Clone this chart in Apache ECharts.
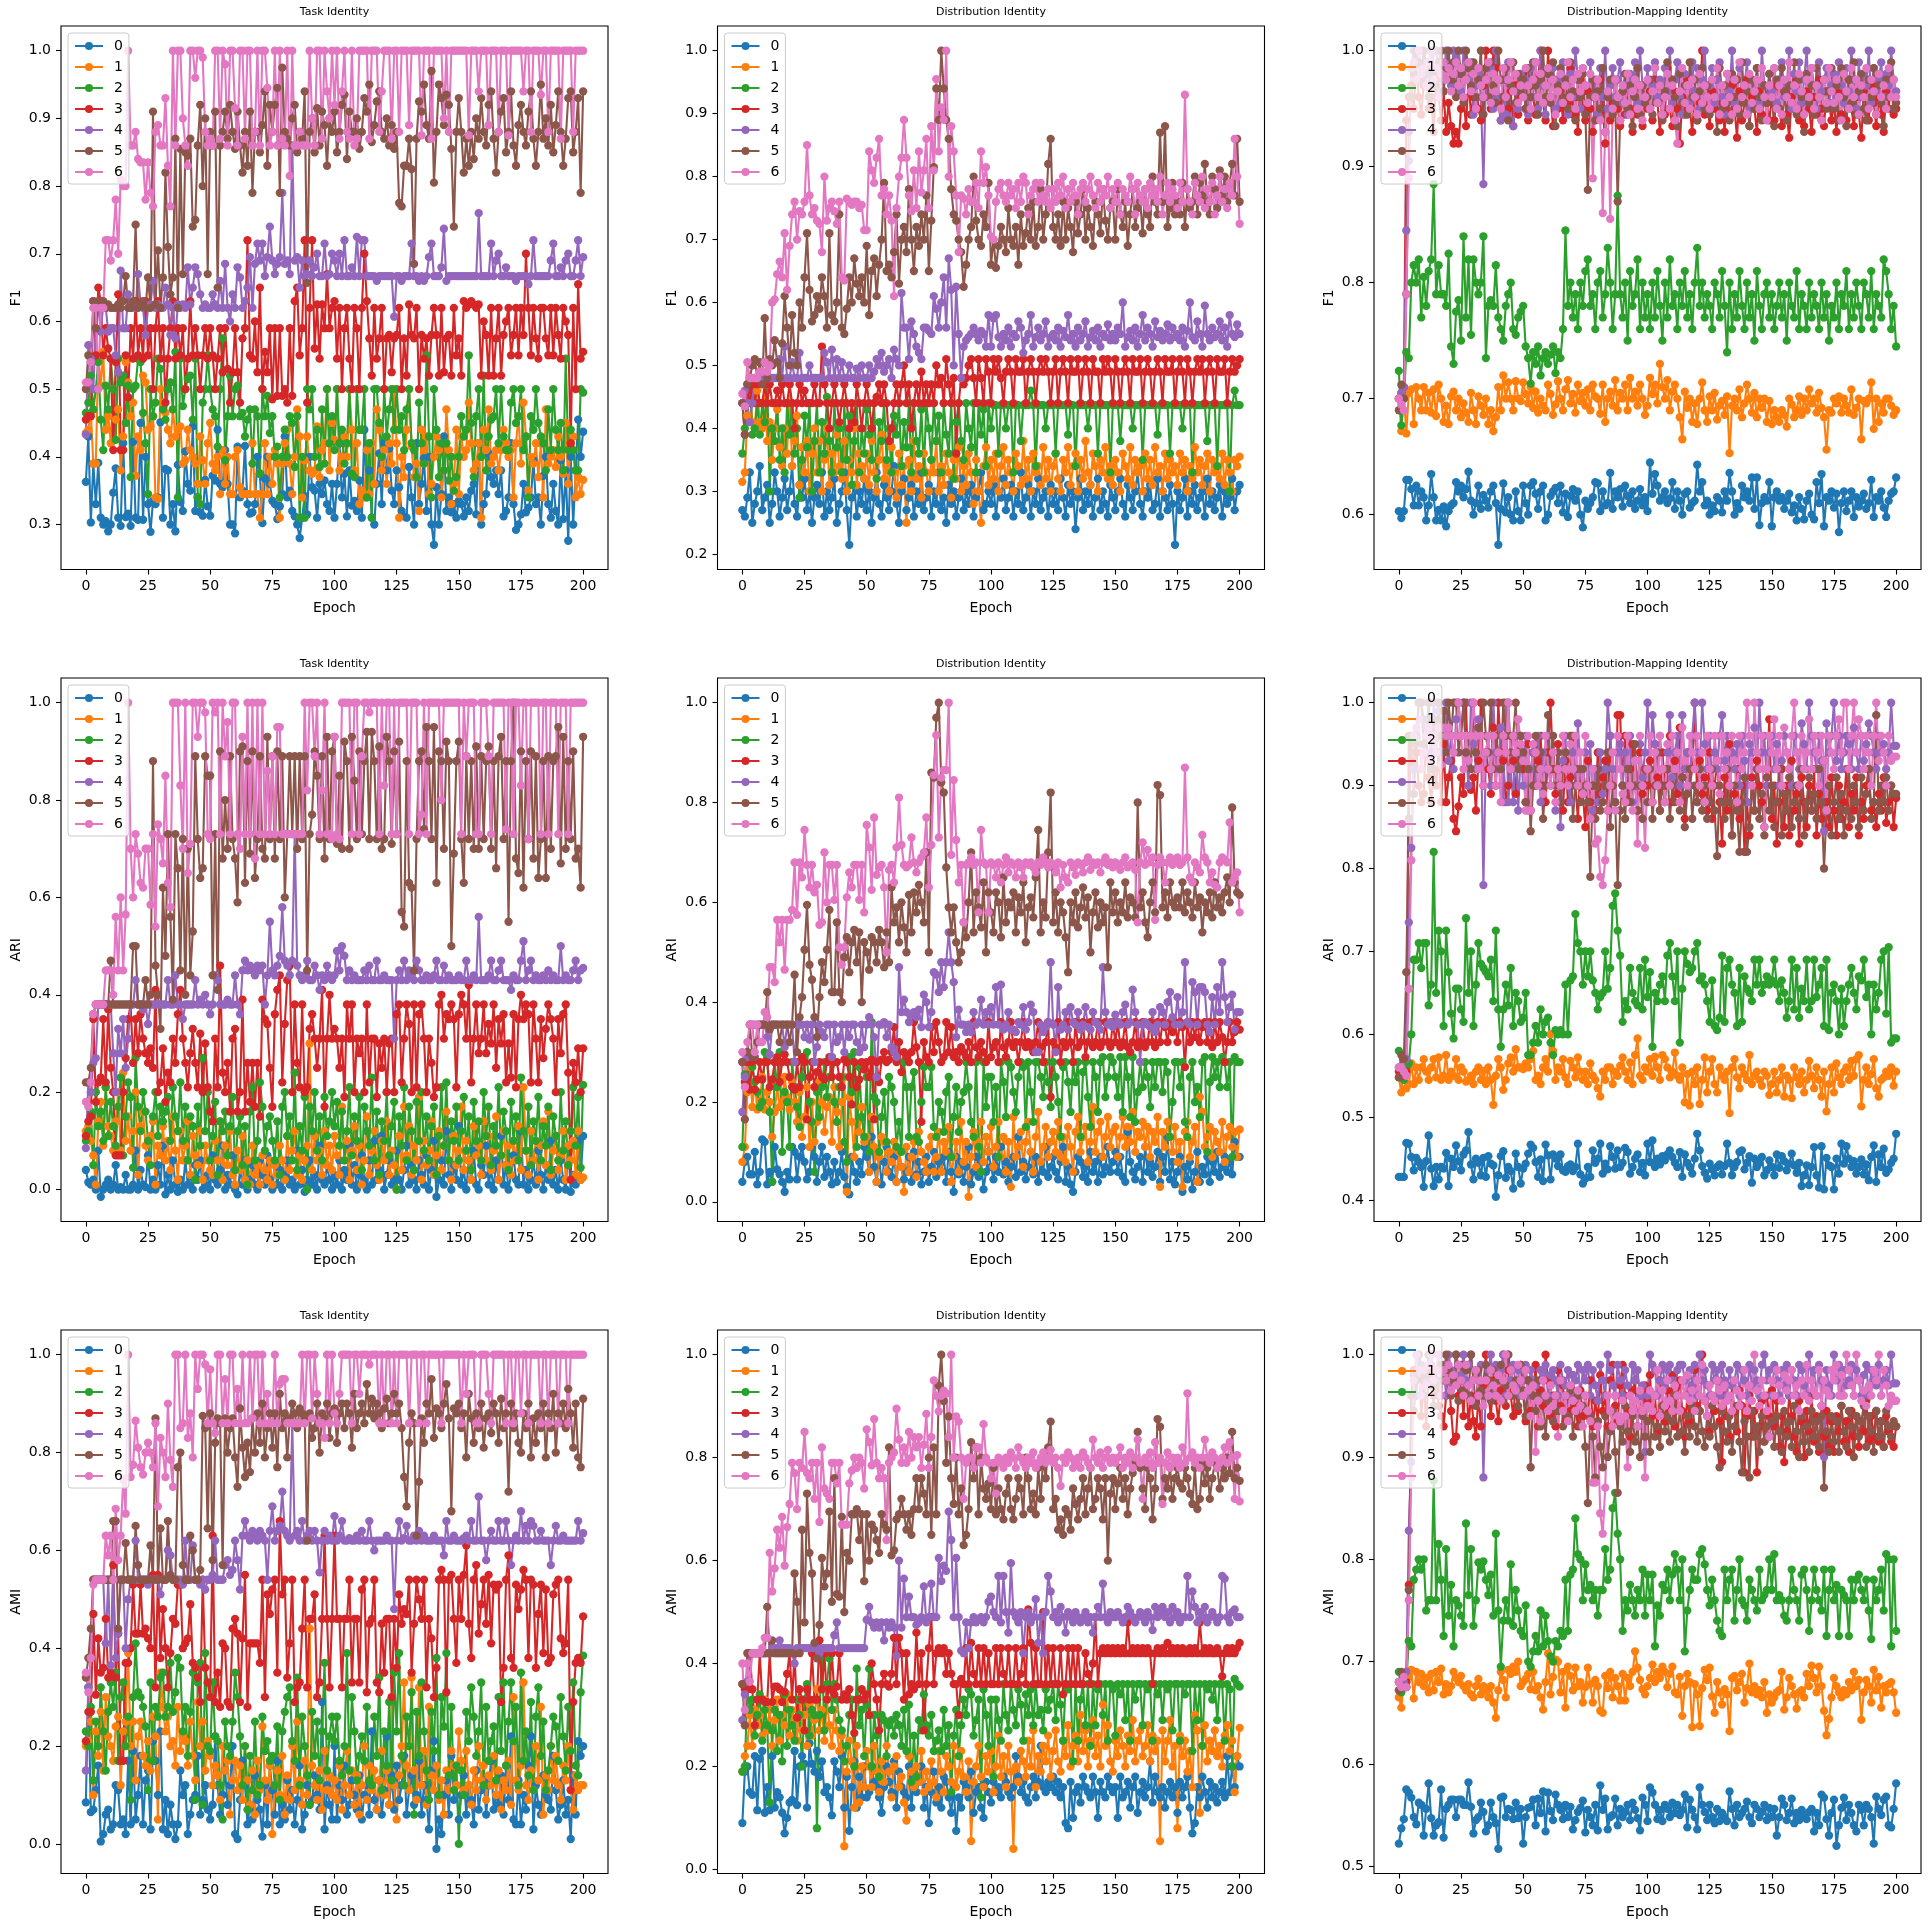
<!DOCTYPE html>
<html>
<head>
<meta charset="utf-8">
<title>Identity metrics per epoch</title>
<script src="https://cdn.jsdelivr.net/npm/echarts@6.0.0/dist/echarts.min.js"></script>
<style>
  html, body { margin: 0; padding: 0; background: #fff; }
  #chart { width: 1931px; height: 1927px; }
</style>
</head>
<body>
<div id="chart"></div>
<script>
// values are stored in thousandths (612 -> 0.612), one array per cluster and panel

var seriesNames = ['0', '1', '2', '3', '4', '5', '6'];
var colors = ['#1f77b4', '#ff7f0e', '#2ca02c', '#d62728', '#9467bd', '#8c564b', '#e377c2'];
var columnTitles = ['Task Identity', 'Distribution Identity', 'Distribution-Mapping Identity'];
var rowMetrics = ['F1', 'ARI', 'AMI'];
var xTicks = [0, 25, 50, 75, 100, 125, 150, 175, 200];
var yTicksF1 = [[0.3, 0.4, 0.5, 0.6, 0.7, 0.8, 0.9, 1.0], [0.2, 0.3, 0.4, 0.5, 0.6, 0.7, 0.8, 0.9, 1.0], [0.6, 0.7, 0.8, 0.9, 1.0]];
var yTicksARI = [[0.0, 0.2, 0.4, 0.6, 0.8, 1.0], [0.0, 0.2, 0.4, 0.6, 0.8, 1.0], [0.4, 0.5, 0.6, 0.7, 0.8, 0.9, 1.0]];
var yTicksAMI = [[0.0, 0.2, 0.4, 0.6, 0.8, 1.0], [0.0, 0.2, 0.4, 0.6, 0.8, 1.0], [0.5, 0.6, 0.7, 0.8, 0.9, 1.0]];

// ---------- Task Identity / F1 ----------
var tF1_0 = [363,430,303,390,330,391,310,300,305,290,300,347,383,310,298,420,311,316,298,422,310,307,450,307,400,
330,289,335,330,340,451,310,382,380,300,330,290,388,333,320,408,360,350,445,320,340,318,313,366,327,
313,372,365,440,360,355,410,360,300,300,287,415,340,350,416,330,316,318,330,400,375,302,368,400,360,
335,330,308,327,345,430,340,350,320,312,300,280,310,342,315,400,355,350,310,360,345,365,330,320,360,
310,360,420,340,375,312,380,328,335,320,365,310,440,340,380,310,300,360,405,330,420,380,412,350,330,
380,355,320,312,310,385,340,300,420,330,360,398,320,400,300,270,355,300,345,430,320,340,318,330,310,
335,330,312,340,320,350,360,315,420,300,330,345,405,370,360,380,345,380,312,320,340,420,330,292,300,
315,360,318,325,340,395,330,340,300,372,400,330,310,360,320,300,395,308,380,276,400,300,380,455,400,
437];
var tF1_1 = [435,440,465,390,390,550,505,555,440,460,420,500,455,470,380,430,540,510,460,480,372,430,410,520,510,
440,445,460,340,338,500,480,465,440,420,470,430,440,445,390,395,440,410,400,390,360,430,395,360,420,
450,390,380,400,345,410,360,400,345,345,400,410,355,345,345,345,345,420,345,345,310,345,420,345,400,
360,410,390,310,390,420,440,390,345,400,470,430,340,395,430,380,375,380,445,370,410,420,500,380,450,
425,500,380,400,430,400,500,440,380,420,330,350,340,410,345,420,360,470,440,380,410,360,420,390,500,
420,310,400,370,440,500,415,370,390,320,440,410,430,345,360,400,430,410,340,380,470,410,330,360,440,
345,430,400,410,480,420,380,390,420,310,440,410,470,390,400,410,380,410,440,420,400,410,340,420,460,
390,480,430,350,400,390,420,370,420,340,470,390,400,410,385,430,400,375,450,360,420,430,340,370,345,
366];
var tF1_2 = [465,480,520,470,500,540,455,410,505,470,545,500,425,545,510,520,450,505,370,500,505,545,540,465,420,
345,500,460,480,545,530,470,455,500,510,470,555,340,545,475,500,515,520,455,545,340,330,480,500,550,
500,470,460,415,500,575,395,460,520,460,500,505,460,465,430,455,470,390,470,460,375,500,460,490,435,
460,400,415,340,400,440,400,460,450,385,460,310,400,310,500,470,500,400,440,385,470,390,500,420,460,
410,500,420,440,390,420,500,375,370,500,440,440,500,340,420,310,500,500,450,400,500,430,470,500,440,
500,440,460,410,470,500,420,410,370,480,420,390,550,430,340,500,440,370,420,380,420,365,400,350,370,
400,460,430,440,550,450,370,460,500,400,520,380,430,455,460,500,420,500,430,410,410,480,500,450,460,
500,410,430,340,460,440,500,450,430,420,380,470,410,500,440,410,450,380,545,410,440,410,380,380,500,
495];
var tF1_3 = [455,460,460,630,550,650,630,550,590,560,545,410,540,640,410,410,550,488,590,545,630,550,590,545,630,
550,590,500,590,630,545,590,480,545,590,630,545,590,550,590,500,545,630,550,590,550,500,550,590,545,
590,550,500,545,590,525,590,530,480,525,590,525,480,575,590,720,550,545,600,525,650,500,555,525,590,
485,590,490,590,490,500,480,590,490,630,650,550,590,720,480,620,720,560,625,545,625,590,670,590,620,
630,545,620,500,590,620,545,500,620,590,500,620,700,630,575,520,620,545,575,620,500,575,580,525,575,
580,620,500,575,520,625,580,575,620,500,580,545,575,520,580,620,580,520,620,525,575,580,520,620,550,
575,520,630,620,625,630,625,620,625,520,600,580,520,620,520,575,620,520,580,600,620,550,580,620,550,
620,580,700,620,550,620,575,545,620,620,575,550,620,550,620,580,545,620,600,580,420,620,500,655,545,
555];
var tF1_4 = [433,565,545,500,590,625,585,625,620,585,590,590,550,525,675,590,590,640,620,620,620,670,625,620,580,
620,625,660,620,625,620,620,650,625,580,620,575,625,620,625,620,680,625,650,680,670,640,620,625,620,
620,640,625,620,660,620,685,620,600,640,620,680,665,620,630,650,695,620,685,715,690,715,667,695,740,
690,670,685,695,790,685,690,670,860,690,695,650,690,667,670,690,667,680,700,667,667,715,667,670,700,
690,667,700,667,720,667,667,680,667,725,667,720,720,667,667,667,667,660,667,667,667,667,667,667,607,
667,667,660,667,667,667,715,667,667,660,667,660,667,695,715,667,667,667,680,737,660,667,667,667,667,
667,667,667,667,667,667,667,667,760,667,667,667,667,715,667,690,700,667,667,680,667,667,667,660,667,
667,667,667,655,667,720,667,667,667,667,667,667,690,715,667,667,680,667,690,700,667,667,690,720,667,
695];
var tF1_5 = [500,550,540,630,590,630,620,630,620,625,620,620,620,625,620,630,667,620,620,630,743,620,625,630,620,
665,620,910,625,705,620,665,820,710,640,665,870,620,855,670,850,845,870,740,750,860,920,800,900,670,
880,860,910,650,860,880,910,870,920,880,855,910,860,820,880,830,910,790,880,880,850,890,940,830,920,
880,920,945,790,975,880,870,860,900,920,850,880,870,940,657,880,900,850,915,860,910,890,830,900,880,
910,850,880,920,935,840,910,880,880,900,855,880,930,910,950,865,890,925,940,880,870,900,860,890,855,
880,775,770,830,830,870,825,685,870,925,910,950,890,870,970,805,880,950,930,890,935,920,855,740,880,
930,880,820,870,830,880,840,900,870,930,880,860,920,940,870,820,880,910,930,850,880,940,860,830,890,
920,880,860,910,940,870,830,880,950,870,900,860,920,850,890,940,880,830,870,930,940,850,880,930,790,
940];
var tF1_6 = [510,510,540,620,620,500,620,620,720,720,690,720,780,700,810,800,800,1000,860,860,880,840,835,835,780,
835,790,770,880,890,860,860,930,830,770,1000,860,1000,1000,900,860,830,1000,1000,960,1000,1000,990,880,860,
870,860,1000,1000,870,1000,980,860,1000,1000,915,860,1000,1000,870,1000,1000,860,880,1000,860,1000,1000,945,860,
880,1000,860,1000,870,860,1000,815,1000,860,860,880,860,860,860,1000,900,860,1000,1000,870,1000,940,900,1000,
920,1000,870,940,1000,880,870,1000,860,870,1000,1000,1000,1000,870,1000,1000,1000,880,940,1000,1000,1000,870,1000,
1000,880,1000,1000,1000,890,1000,1000,1000,1000,875,1000,1000,1000,870,1000,1000,1000,1000,900,1000,880,1000,1000,1000,
1000,1000,1000,1000,875,1000,1000,1000,940,1000,1000,1000,890,1000,1000,1000,880,1000,1000,1000,875,1000,1000,1000,1000,
1000,940,1000,1000,880,1000,1000,1000,935,1000,1000,880,1000,1000,1000,1000,870,1000,1000,1000,1000,880,1000,1000,1000,
1000];

// ---------- Distribution Identity / F1 ----------
var dF1_0 = [270,260,290,330,250,280,300,340,270,290,310,250,280,330,300,260,290,320,270,300,340,280,260,310,290,
320,270,300,250,290,310,280,330,260,300,270,290,320,250,280,300,330,270,215,290,310,260,300,280,320,
270,300,250,290,330,280,260,310,290,270,300,340,280,250,300,320,270,290,310,260,300,280,330,270,290,
310,260,300,280,330,270,290,250,310,280,300,260,290,320,270,300,280,310,260,290,300,330,270,280,300,
280,310,260,300,290,320,270,290,310,260,300,280,330,270,290,310,260,300,280,320,270,290,300,260,310,
280,300,270,320,290,260,310,280,300,240,290,320,270,300,280,310,260,290,320,270,300,280,260,310,290,
270,300,320,280,260,310,290,270,300,330,280,260,300,290,310,270,280,320,260,300,290,270,310,280,215,
300,270,290,320,260,300,280,310,270,290,300,260,320,280,300,270,290,310,260,300,280,290,320,270,300,
310];
var dF1_1 = [315,330,420,470,410,400,460,410,400,470,380,410,350,400,430,370,340,400,360,470,340,380,420,310,370,
330,380,300,360,400,330,380,300,350,400,310,360,330,390,340,320,380,300,350,330,400,310,360,340,320,
360,310,380,330,300,350,390,320,340,300,370,330,290,360,310,340,250,350,300,380,320,340,290,360,330,
300,350,330,380,300,340,310,360,330,290,350,320,370,300,340,310,360,330,280,350,300,250,340,370,310,
350,320,360,300,340,370,310,350,330,300,360,340,310,380,320,350,300,360,330,340,310,370,320,350,300,
340,360,320,300,350,330,370,310,340,360,300,350,320,380,330,310,360,340,300,350,330,370,320,340,310,
350,330,300,360,340,320,370,310,350,330,340,300,360,320,350,310,370,330,340,300,360,320,350,330,340,
310,360,330,350,300,340,320,370,330,350,310,340,360,300,350,330,340,320,360,310,350,330,300,350,340,
355];
var dF1_2 = [360,400,470,470,390,400,440,390,440,410,470,300,400,380,440,350,400,330,440,390,440,360,400,290,350,
420,370,440,300,380,440,330,410,360,450,380,330,440,370,400,330,440,350,420,310,380,440,330,400,360,
430,390,350,440,320,410,380,440,350,400,330,420,390,440,340,410,370,440,330,440,380,360,430,330,440,
400,350,440,380,420,330,440,390,360,440,320,410,440,380,350,440,400,370,440,330,440,390,430,340,440,
400,437,437,360,437,437,400,437,437,330,437,437,380,437,437,437,460,437,340,437,437,437,400,437,437,
437,360,437,437,437,437,390,437,437,340,437,437,437,437,400,437,437,437,360,437,437,437,437,330,437,
437,437,380,437,437,437,437,400,437,437,437,350,437,437,437,437,437,390,437,437,437,437,360,437,437,
437,437,400,437,437,437,330,437,437,437,437,437,380,437,437,437,340,437,437,437,437,300,437,460,437,
437];
var dF1_3 = [440,390,460,440,470,440,470,440,440,470,440,470,440,440,460,440,470,440,440,470,440,400,440,470,440,
460,440,440,440,470,440,440,530,470,440,400,440,470,440,410,440,470,440,400,440,410,470,440,400,440,
470,440,400,440,450,470,440,470,440,380,400,440,470,440,470,500,440,470,400,440,470,440,490,440,470,
440,470,440,500,470,480,440,510,470,440,480,360,440,480,470,480,500,510,480,440,510,480,440,510,490,
440,510,490,510,480,440,490,510,490,440,510,490,490,510,440,490,510,490,440,490,510,490,510,490,440,
490,510,440,490,510,490,440,510,490,490,510,440,490,510,490,440,510,490,490,440,510,490,510,490,440,
510,490,440,490,510,490,440,510,490,490,510,440,490,510,490,440,490,510,490,440,510,490,490,510,440,
490,510,490,440,510,490,440,490,510,490,510,440,490,510,490,440,510,490,490,510,440,490,510,490,500,
510];
var dF1_4 = [440,460,440,410,440,480,480,480,480,480,480,480,480,480,480,510,480,530,480,480,505,480,480,520,480,
480,480,500,480,480,480,480,480,520,505,480,525,480,510,480,505,480,480,500,480,480,495,480,500,480,
480,500,480,490,510,500,520,490,500,510,480,525,510,500,615,560,560,510,570,550,530,520,510,560,560,
555,550,610,590,560,600,640,560,670,620,500,625,550,480,530,540,545,550,560,550,540,555,550,530,580,
530,575,580,545,530,550,540,560,530,550,545,570,560,520,540,550,580,530,545,560,540,550,570,530,545,
550,540,560,530,555,545,580,540,550,530,560,540,550,570,530,545,555,540,560,530,550,545,565,540,550,
540,560,550,600,530,545,555,540,560,530,550,580,540,560,550,530,570,545,555,540,550,565,540,560,545,
550,540,560,530,555,600,545,540,570,550,530,595,550,540,560,545,550,570,540,560,530,580,550,545,565,
550];
var dF1_5 = [440,390,470,480,500,510,480,505,470,575,480,510,500,540,505,480,535,610,560,500,580,520,500,600,560,
640,710,620,570,580,610,590,640,610,560,710,580,570,600,740,560,550,590,640,600,670,630,610,640,600,
690,580,650,670,610,660,700,790,650,660,640,680,740,630,700,720,680,780,700,650,720,690,740,700,770,
650,730,815,940,890,1000,940,890,860,780,740,730,700,680,625,660,700,720,800,730,700,690,740,720,790,
660,700,655,690,720,700,680,750,700,690,720,660,740,690,710,750,700,760,690,720,780,700,740,820,860,
720,700,740,690,760,700,750,720,680,760,710,740,780,700,750,720,690,760,740,710,780,730,700,750,760,
700,780,740,720,760,690,740,780,720,750,760,710,780,740,720,800,760,740,870,760,880,720,750,790,740,
760,740,790,720,780,750,760,800,740,790,770,820,760,740,800,780,750,810,770,800,760,790,820,770,860,
760];
var dF1_6 = [455,435,505,480,480,480,480,490,490,505,490,500,600,605,645,665,640,710,620,690,740,760,700,745,740,
760,850,770,740,750,730,725,680,800,730,750,760,745,725,760,640,635,765,760,755,760,760,750,755,715,
715,840,810,790,830,860,770,780,740,770,730,610,750,800,830,890,830,770,745,810,750,840,775,810,860,
750,880,810,955,840,910,890,1000,800,880,840,770,680,770,765,740,780,760,760,790,750,840,790,815,770,
705,700,760,780,790,770,760,790,770,780,750,790,760,800,790,740,770,780,790,760,790,770,760,780,750,
780,760,790,770,800,750,780,760,790,770,740,780,790,760,780,800,770,750,790,760,780,770,800,750,780,
760,790,740,780,770,760,800,780,740,790,770,760,780,750,790,770,780,760,800,740,770,790,760,780,770,
750,790,760,930,780,760,740,790,770,760,800,750,780,760,790,740,770,800,760,780,750,790,770,860,800,
725];

// ---------- Distribution-Mapping Identity / F1 ----------
var mF1_0 = [603,597,603,630,630,622,608,625,608,620,615,595,608,635,615,595,604,595,607,590,603,608,610,628,620,
625,615,622,637,612,600,610,625,605,617,612,606,620,625,610,574,605,627,602,615,600,595,620,603,595,
625,610,600,625,628,618,605,620,625,595,600,616,620,623,610,625,602,618,598,616,622,612,620,600,589,
612,605,610,615,628,627,603,620,608,610,636,605,620,615,622,607,625,616,610,620,605,612,622,608,615,
603,645,618,635,625,612,615,620,610,614,628,605,620,612,600,618,620,606,610,612,643,620,628,608,612,
600,608,603,615,612,602,620,612,636,620,600,610,605,625,615,620,612,632,605,632,591,610,615,612,628,
590,615,620,612,615,605,612,618,602,608,595,615,605,596,612,618,600,596,628,610,635,590,615,612,620,
606,618,585,610,620,603,612,620,598,615,607,612,618,605,610,630,598,615,612,620,606,598,612,618,620,
632];
var mF1_1 = [700,672,705,670,705,708,678,710,700,690,710,690,705,688,708,685,712,700,680,694,678,702,706,690,700,
684,696,688,680,705,690,678,702,694,686,700,678,690,672,684,710,690,720,700,714,700,690,715,700,698,
714,704,696,710,692,706,688,700,694,690,712,704,686,695,715,700,690,708,716,696,704,688,712,698,705,
694,708,690,712,702,700,687,712,680,700,706,694,716,690,705,700,712,690,718,700,706,694,712,700,686,
694,718,704,712,696,730,710,700,716,690,706,712,700,684,665,706,692,700,680,696,678,700,714,690,680,
702,690,705,682,694,698,686,702,653,694,700,690,708,684,696,712,700,688,705,684,700,692,700,680,698,
678,690,684,680,690,686,676,700,695,684,690,702,686,700,690,708,696,700,688,705,692,684,656,690,688,
700,696,702,688,700,694,688,708,686,692,700,665,698,696,700,714,674,700,680,696,688,700,700,694,686,
690];
var mF1_2 = [724,677,700,740,735,800,815,800,820,770,805,780,810,820,885,790,815,790,790,780,825,745,730,775,785,
750,840,770,820,755,820,800,790,800,840,735,780,785,780,815,770,760,750,780,790,800,760,755,770,775,
780,745,735,713,740,730,745,720,735,740,730,738,745,722,740,735,760,845,780,800,770,790,760,800,780,
810,820,780,790,760,800,810,770,790,830,800,760,790,875,790,770,800,750,810,780,790,820,760,800,770,
790,760,800,770,810,780,750,800,770,820,780,790,760,800,780,810,770,790,760,800,830,780,800,770,790,
780,760,800,790,770,810,780,740,800,760,790,770,810,780,760,800,770,790,750,810,780,760,790,800,770,
790,760,780,800,770,790,750,800,780,770,810,760,790,780,760,800,770,790,780,760,800,770,790,750,780,
770,800,760,790,780,810,760,790,770,800,780,760,800,790,770,810,760,790,780,770,820,810,790,760,780,
745];
var mF1_3 = [700,705,710,940,960,970,950,990,960,945,970,980,950,960,930,975,960,940,965,930,955,935,920,930,920,
950,960,935,975,945,960,980,950,940,970,1000,960,950,1000,985,955,940,960,975,950,965,935,970,945,960,
980,950,940,970,960,945,975,1000,955,940,1000,960,935,975,950,965,940,970,955,985,945,960,930,975,950,
940,965,950,930,960,945,975,950,920,965,940,955,975,950,935,965,945,980,950,930,960,945,970,935,955,
950,965,940,975,955,930,960,945,985,950,935,965,950,920,960,945,975,950,930,965,940,955,1000,945,960,
935,965,950,975,940,955,930,960,945,970,950,925,965,940,955,975,935,960,950,930,965,945,970,955,940,
960,940,970,950,935,965,945,925,960,950,975,940,955,935,965,950,930,960,945,975,950,935,965,955,940,
955,930,965,945,960,940,975,950,935,960,945,925,965,950,940,970,955,935,960,945,930,965,950,975,945,
950];
var mF1_4 = [700,705,710,845,905,985,1000,990,1000,975,1000,990,980,970,1000,1000,985,990,975,1000,985,970,1000,995,980,
965,1000,985,975,990,945,970,980,960,885,975,960,985,950,1000,960,940,975,945,990,940,935,965,950,980,
960,975,945,985,960,990,950,1000,970,945,980,960,985,950,975,955,990,970,945,980,960,1000,975,950,985,
970,955,990,960,975,945,985,960,1000,950,970,985,960,975,990,955,970,945,980,965,990,955,1000,970,960,
985,950,970,990,960,975,945,985,965,1000,955,975,990,960,945,980,970,955,990,965,985,950,975,1000,960,
970,985,955,975,990,960,945,980,965,1000,955,975,985,960,970,990,950,975,965,985,955,1000,970,960,980,
965,985,955,975,990,960,970,1000,950,980,965,990,955,975,1000,960,985,970,950,990,965,975,985,955,970,
980,960,990,970,955,985,965,1000,975,950,990,960,980,970,1000,955,985,965,975,990,960,980,970,1000,975,
965];
var mF1_5 = [690,712,700,790,930,960,980,1000,990,975,1000,985,960,1000,980,970,990,1000,965,985,1000,975,990,960,1000,
980,955,1000,985,970,990,960,975,1000,945,985,960,990,970,955,1000,975,960,985,940,970,990,955,980,965,
975,950,985,960,990,970,945,975,1000,960,980,955,990,935,970,985,960,975,950,990,965,940,975,960,980,
945,880,960,975,940,965,950,985,930,960,975,945,955,870,940,965,980,950,970,935,960,985,945,970,955,
960,975,945,985,955,970,940,965,990,950,975,960,935,980,955,970,945,990,960,975,940,965,985,950,970,
945,975,960,930,985,950,970,955,940,980,960,975,945,990,955,965,935,975,950,985,960,940,970,955,980,
960,935,975,950,985,965,940,970,955,990,945,975,960,930,980,955,970,945,985,960,940,975,950,965,985,
950,970,940,985,960,935,975,955,990,945,965,980,950,940,975,960,985,945,970,955,935,975,960,990,950,
955];
var mF1_6 = [700,695,690,790,890,985,990,975,1000,980,985,970,990,1000,975,985,960,980,990,975,985,965,980,990,970,
985,960,975,990,965,980,950,985,970,960,975,990,955,980,965,975,950,985,960,975,990,965,980,955,970,
960,985,970,950,975,990,960,980,955,970,985,960,975,945,965,980,955,970,990,960,975,950,980,965,985,
970,955,980,890,960,975,940,860,930,965,855,950,975,960,940,970,955,980,945,965,975,950,970,940,960,
975,950,965,985,955,970,945,960,980,950,970,940,920,965,985,955,970,950,975,960,945,980,955,970,960,
950,975,960,985,945,970,955,980,960,945,975,950,990,960,970,945,980,955,965,975,950,985,960,940,970,
960,985,950,970,945,975,960,990,955,970,950,980,965,945,975,960,985,950,970,960,940,975,955,985,965,
955,975,960,940,980,965,950,985,960,975,945,970,960,985,950,975,965,945,980,960,970,950,985,960,975,
960];

// ---------- Task Identity / ARI ----------
var tARI_0 = [40,15,10,20,0,80,-15,0,10,20,0,10,50,0,5,0,30,0,0,10,80,0,40,10,5,
70,0,20,0,50,10,90,-10,30,0,60,10,-5,20,0,60,10,30,0,50,20,60,0,10,30,
0,70,20,10,40,90,0,30,10,70,0,-10,40,10,60,0,20,50,10,0,60,30,10,70,20,
0,50,10,40,0,30,60,10,20,0,80,10,40,-5,20,60,10,30,0,90,20,10,50,20,0,
30,10,60,0,40,20,90,10,50,0,30,70,20,0,60,10,100,20,40,110,0,30,60,10,20,
80,20,0,40,90,10,50,20,0,60,30,10,70,0,40,100,-15,20,60,10,120,30,0,50,20,
130,10,40,0,60,20,80,10,0,50,30,90,10,40,0,60,20,110,10,50,0,30,70,20,10,
120,10,40,0,20,60,10,80,30,0,50,20,100,10,40,0,60,20,0,90,-5,30,10,100,20,
110];
var tARI_1 = [120,130,100,70,10,140,180,90,210,130,110,80,140,200,80,240,100,150,80,120,200,30,130,160,90,
60,110,140,10,90,70,130,60,100,40,150,80,20,120,60,90,140,30,110,70,50,120,20,90,60,
40,30,100,60,140,20,90,50,120,30,10,80,40,110,20,60,10,90,30,50,10,70,40,20,60,
10,50,30,90,60,20,110,40,80,120,30,70,20,60,90,300,40,110,60,80,30,120,50,90,40,
110,70,30,170,60,100,20,80,130,40,90,10,60,150,30,80,120,50,20,100,60,140,30,80,50,
0,110,40,170,70,130,30,90,60,190,20,100,50,80,140,30,70,120,40,90,160,60,20,110,50,
80,170,40,100,60,20,130,70,90,30,140,60,110,40,80,150,20,70,120,50,90,30,100,60,130,
40,210,80,30,120,60,100,20,90,140,50,160,30,80,110,40,70,120,20,90,60,100,30,120,20,
25];
var tARI_2 = [100,120,160,50,200,130,160,100,210,110,180,130,90,170,230,70,150,220,190,45,270,170,120,200,160,
100,50,150,200,110,170,140,160,190,100,210,150,120,220,100,170,60,150,130,20,170,90,270,120,200,
60,110,180,30,140,120,160,70,130,190,40,120,150,50,130,10,160,210,60,100,220,170,80,130,150,
100,60,140,30,170,200,110,150,60,240,40,130,80,190,0,170,120,200,80,150,60,190,110,140,200,
130,180,90,160,60,120,210,70,150,100,190,40,170,120,90,230,60,160,30,140,100,200,70,130,180,
0,150,90,210,60,170,120,40,180,100,200,80,150,60,130,170,30,110,210,90,220,60,140,100,170,
60,120,190,80,150,40,180,100,140,60,200,110,170,50,130,90,210,70,160,120,40,180,100,150,60,
230,120,80,170,50,140,100,190,60,130,90,170,40,150,110,60,200,80,140,50,120,210,90,190,45,
215];
var tARI_3 = [110,140,150,350,180,220,230,350,220,370,250,200,70,70,70,200,270,350,380,260,350,280,360,310,280,
260,290,250,410,200,220,290,180,240,220,310,260,360,410,310,260,210,280,330,260,210,320,200,300,210,
160,140,310,210,460,240,200,260,160,310,330,160,200,390,160,260,180,260,170,260,150,390,350,340,250,
170,360,410,440,220,340,430,460,200,380,260,210,380,200,210,330,360,310,250,310,410,170,310,400,310,
330,310,250,310,190,380,310,380,200,310,280,310,200,380,220,310,310,190,300,250,310,200,300,310,200,
360,380,220,310,380,340,200,380,210,360,380,310,200,310,260,190,210,380,400,310,360,350,380,350,210,
360,400,380,310,420,220,310,380,280,310,380,280,340,300,380,250,350,300,360,220,300,230,360,210,350,
400,350,380,360,220,380,310,220,350,270,330,380,350,310,200,350,280,360,380,240,20,260,220,290,200,
290];
var tARI_4 = [85,220,200,260,270,380,380,380,380,380,380,280,200,330,280,350,250,310,380,380,430,380,380,370,380,
340,380,380,380,380,380,380,380,430,380,380,440,380,380,350,380,380,380,380,430,380,390,380,400,380,
360,380,440,430,380,380,380,390,380,380,440,380,360,450,470,450,460,450,440,460,450,460,380,440,550,
450,440,460,480,580,470,460,440,470,730,460,440,430,440,470,430,430,460,440,410,440,430,460,440,430,
440,490,450,500,480,430,450,430,440,430,430,430,450,430,460,430,430,470,430,430,440,430,430,430,310,
430,450,430,470,430,450,440,430,470,450,430,430,440,430,430,440,470,430,430,460,430,440,430,430,430,
440,430,430,470,430,430,440,430,560,430,430,430,440,470,430,430,450,470,430,430,430,410,440,430,430,
470,510,430,450,470,430,440,430,430,440,430,450,430,440,430,430,500,430,440,430,430,450,470,430,450,
455];
var tARI_5 = [220,220,250,360,380,380,380,380,380,380,470,380,380,380,380,380,380,380,380,500,500,380,380,380,430,
380,400,880,460,400,330,620,480,730,560,390,730,660,450,720,400,700,440,530,890,720,640,660,890,850,
850,440,730,410,900,680,800,700,890,720,680,590,900,910,630,880,690,900,640,720,890,700,680,930,720,
890,680,900,720,890,600,730,890,730,890,700,890,720,890,450,730,770,900,850,720,890,680,930,720,900,
930,710,850,700,920,880,700,930,840,720,900,730,880,940,720,940,880,720,910,700,720,930,880,710,900,
730,920,570,540,880,630,620,450,720,880,900,740,950,880,720,950,630,900,880,700,920,880,500,690,880,
920,720,630,890,720,880,700,910,700,890,720,880,910,700,880,660,890,930,720,880,550,880,1000,680,650,
900,620,880,720,900,680,890,640,720,880,640,890,700,880,890,950,670,930,700,880,720,900,680,700,620,
930];
var tARI_6 = [180,170,220,360,380,380,380,380,450,450,450,400,560,450,600,450,565,1000,700,600,730,690,630,620,700,
700,585,730,540,750,720,670,850,630,580,1000,1000,1000,830,700,1000,650,710,1000,1000,930,1000,1000,980,730,
720,1000,980,1000,730,1000,890,960,730,1000,1000,730,700,930,730,1000,730,1000,680,1000,730,1000,730,860,730,
890,730,950,950,730,730,730,730,730,730,730,730,730,1000,820,1000,1000,890,1000,730,820,1000,730,730,720,
930,730,720,1000,1000,1000,1000,730,1000,1000,730,890,1000,1000,980,1000,1000,1000,730,1000,830,1000,1000,730,1000,
730,1000,1000,1000,1000,730,1000,1000,1000,730,770,1000,730,1000,1000,1000,1000,1000,800,1000,1000,1000,1000,1000,1000,
1000,730,1000,890,1000,1000,1000,730,730,1000,1000,1000,890,730,1000,1000,1000,1000,1000,740,1000,1000,730,1000,1000,
830,1000,1000,720,1000,1000,1000,1000,730,1000,1000,730,1000,1000,1000,730,1000,1000,1000,730,1000,1000,1000,1000,1000,
1000];

// ---------- Distribution Identity / ARI ----------
var dARI_0 = [40,80,90,55,55,100,35,60,125,120,35,60,40,110,65,55,40,20,60,45,110,100,45,90,110,
80,45,60,110,90,40,80,110,50,90,60,35,80,40,60,100,50,30,15,90,60,40,80,55,110,
90,60,130,70,40,90,35,80,110,60,50,90,40,100,70,45,60,90,40,100,55,80,35,60,90,
40,70,100,50,80,60,90,40,100,60,20,90,55,80,40,70,110,35,60,90,50,80,25,60,100,
70,45,90,60,110,55,80,40,70,90,50,130,60,80,45,70,100,55,90,40,80,60,110,50,70,
90,60,45,80,110,40,70,35,20,60,90,80,50,70,40,100,60,80,40,90,55,70,110,60,80,
100,60,90,50,40,140,80,60,45,70,90,40,110,60,80,50,70,100,40,90,60,130,45,80,35,
60,90,20,70,45,80,25,60,100,40,70,55,90,40,80,60,100,50,70,90,60,80,55,120,90,
90];
var dARI_1 = [80,110,220,270,190,240,185,200,250,185,220,200,130,180,230,190,200,250,210,185,240,200,160,220,130,
170,230,110,200,120,160,240,200,140,190,210,120,230,180,110,200,250,20,210,160,90,230,140,190,120,
130,60,170,110,40,90,130,120,60,100,80,120,40,100,70,20,110,60,90,120,50,140,100,80,60,
110,130,60,90,140,60,120,100,150,40,90,120,60,160,80,120,10,90,140,70,120,160,80,130,100,
150,70,110,160,90,130,60,120,30,170,90,110,140,70,120,160,100,60,130,180,80,110,150,90,120,
140,100,160,90,130,80,150,110,60,140,170,100,130,150,80,120,190,100,140,160,90,130,170,110,140,
150,90,130,170,110,150,120,180,100,140,130,160,110,150,90,140,120,170,30,140,110,160,130,100,150,
80,120,30,140,160,90,120,150,40,210,180,110,130,150,90,140,120,100,160,80,130,150,110,140,90,
145];
var dARI_2 = [110,255,300,280,270,240,220,190,200,300,290,180,40,280,230,300,100,220,200,110,280,230,190,150,250,
290,300,200,160,60,220,170,230,280,210,250,290,200,160,230,250,120,80,290,220,300,110,270,170,130,
250,100,360,210,200,100,170,220,120,250,230,200,110,160,100,280,230,130,230,260,130,120,200,270,230,
230,270,150,130,200,180,140,220,250,90,170,230,140,200,220,280,230,160,130,280,110,60,280,190,250,
250,160,230,90,280,240,170,280,270,220,180,250,280,270,150,280,220,160,280,280,250,210,280,240,190,
280,250,200,130,270,280,240,180,280,240,280,130,260,280,210,150,280,250,180,280,290,210,250,290,280,
250,210,290,180,290,250,170,290,160,220,280,230,280,250,190,280,230,280,280,220,280,260,130,200,280,
280,230,280,160,130,250,280,200,230,170,280,290,100,240,290,250,280,230,290,280,230,280,90,290,280,
280];
var dARI_3 = [280,240,280,225,280,225,245,280,245,280,280,230,245,280,290,240,280,295,280,250,230,225,280,230,290,
280,165,250,280,230,260,280,250,245,280,290,250,280,280,250,230,285,280,250,195,280,230,245,280,265,
280,250,285,165,280,240,285,300,280,285,300,350,280,320,260,300,290,280,300,360,310,280,160,320,290,
280,350,300,360,320,280,290,360,300,350,290,300,280,310,300,290,320,280,360,310,290,320,300,280,360,
290,310,320,280,360,310,290,320,360,310,320,280,320,360,310,320,310,300,320,360,310,280,320,360,210,
320,310,360,280,320,310,360,320,280,360,310,320,360,290,320,360,310,320,360,310,320,360,320,310,360,
320,360,310,320,360,310,300,320,360,310,320,360,310,320,360,320,310,360,320,360,350,320,360,340,360,
320,360,350,270,360,320,360,330,360,320,350,360,320,360,310,360,320,360,330,280,320,360,320,340,360,
345];
var dARI_4 = [180,250,290,355,355,355,355,355,355,355,330,295,355,355,355,355,355,310,355,355,355,280,355,355,355,
330,355,325,355,280,310,355,340,330,355,355,290,355,320,330,355,300,355,330,355,355,320,300,355,310,
355,370,355,330,250,355,355,360,330,355,310,300,290,470,380,405,380,360,375,380,370,385,350,415,400,
350,380,460,455,420,480,430,480,540,480,440,330,385,355,355,340,355,340,380,355,360,405,355,380,355,
390,355,430,355,435,345,355,380,345,345,340,360,355,390,345,360,395,380,300,300,355,340,350,360,480,
355,300,430,345,355,380,345,390,360,355,380,345,355,390,350,345,380,360,355,345,470,380,355,360,350,
375,360,355,380,395,355,360,425,380,355,280,355,360,355,350,380,340,355,390,380,355,400,420,370,355,
410,355,380,480,360,355,440,420,355,430,430,420,355,340,410,355,430,380,480,410,360,390,415,345,380,
380];
var dARI_5 = [280,165,300,355,290,290,320,355,355,355,420,345,355,355,355,320,355,355,355,320,355,455,300,370,410,
505,595,475,445,370,330,410,480,440,505,585,420,420,560,420,400,490,530,460,520,545,480,540,400,520,
500,465,530,520,480,545,520,470,540,480,630,560,590,520,600,550,500,615,540,620,580,635,600,560,700,
500,860,850,970,1000,840,820,670,590,540,590,520,480,500,560,530,600,700,540,620,590,550,640,500,620,
580,540,620,600,530,650,560,600,590,620,540,610,580,640,520,590,610,570,650,745,540,600,570,700,820,
560,620,540,600,580,530,460,600,560,620,550,590,630,570,610,500,580,620,550,600,560,590,470,640,580,
620,560,600,580,640,570,610,600,570,800,590,620,560,530,600,640,580,835,815,590,620,570,640,600,590,
610,590,640,580,620,600,570,640,590,610,540,600,580,620,570,640,590,610,580,620,650,600,790,640,620,
615];
var dARI_6 = [300,230,320,355,355,300,355,320,320,380,370,470,470,440,565,520,565,465,565,565,585,680,575,680,650,
745,675,630,675,620,635,555,560,700,600,675,675,605,675,510,475,510,610,660,630,675,675,605,675,580,
755,710,625,770,655,670,675,630,500,665,675,640,710,810,715,675,670,675,730,680,660,680,690,700,770,
630,715,855,935,730,850,865,865,1000,695,845,725,640,675,560,675,680,690,675,680,580,745,680,675,580,
680,675,650,680,640,675,690,660,680,675,650,680,670,650,680,675,680,670,660,680,675,690,680,670,680,
675,660,680,630,675,650,640,680,670,655,680,675,660,680,690,665,680,675,680,660,680,690,675,680,670,
680,675,665,680,690,670,675,680,665,560,680,720,675,705,680,690,565,675,690,680,640,680,690,675,680,
690,675,680,870,690,650,640,680,670,660,735,690,680,640,660,635,630,680,690,685,680,760,640,650,660,
580];

// ---------- Distribution-Mapping Identity / ARI ----------
var mARI_0 = [428,428,428,469,468,452,436,451,446,440,416,447,478,438,417,440,425,440,438,457,417,450,440,466,447,
436,455,460,482,443,425,450,445,430,451,428,453,444,442,404,430,453,459,427,440,435,414,456,440,420,
438,444,456,467,463,446,428,449,423,467,454,425,455,450,441,455,436,434,441,443,435,440,468,431,420,
426,440,428,460,445,450,468,432,444,437,465,452,438,460,440,445,463,458,432,440,450,455,434,445,430,
468,446,472,440,450,443,453,448,455,460,452,445,440,458,428,455,445,440,432,450,480,460,441,433,426,
444,437,430,440,443,431,441,468,445,430,440,446,458,460,437,445,453,421,450,440,445,452,430,436,448,
440,430,455,439,453,447,436,444,456,442,433,445,417,430,442,418,440,464,430,415,465,413,451,442,440,
413,450,432,468,444,465,450,440,447,432,440,449,431,443,424,452,466,422,455,440,462,433,437,445,450,
480];
var mARI_1 = [548,530,560,535,540,565,540,560,545,560,570,555,545,560,570,548,572,545,550,575,545,555,550,570,545,
560,555,543,545,550,540,555,560,545,556,540,560,545,515,550,570,560,533,545,565,572,555,582,560,560,
558,565,560,570,580,545,550,540,560,570,555,600,580,545,560,555,570,548,540,568,560,548,572,555,545,
555,540,565,550,545,535,525,555,545,560,560,540,555,550,562,572,555,545,566,540,575,595,550,545,560,
555,570,550,573,560,545,575,570,560,548,555,578,550,545,560,518,552,514,555,540,560,516,545,572,530,
555,570,540,530,560,550,545,555,505,560,570,548,535,560,552,545,575,540,550,555,545,538,555,550,527,
540,555,530,545,560,525,550,545,523,560,548,540,555,530,545,568,550,535,560,545,525,555,507,540,560,
530,565,548,540,555,560,545,568,550,570,575,513,545,560,540,552,570,535,525,545,548,555,550,560,538,
555];
var mARI_2 = [580,560,545,560,565,600,690,690,710,680,710,710,635,660,820,650,725,700,610,725,675,625,595,655,655,
630,615,740,650,700,610,660,710,685,680,675,670,690,640,725,630,585,630,660,635,680,610,650,640,615,
620,650,575,575,590,610,590,630,600,615,620,590,575,605,600,605,600,660,600,665,670,745,710,700,660,
700,670,700,665,650,630,645,650,700,655,680,755,770,725,695,615,640,630,680,650,640,635,680,630,690,
645,675,585,650,640,660,670,640,695,710,670,640,700,590,655,700,685,675,680,700,710,665,670,660,640,
615,665,610,605,620,695,615,680,690,660,650,610,680,615,670,655,650,640,690,660,690,650,660,670,660,
665,690,660,640,665,650,620,640,690,630,680,620,655,640,690,630,640,690,645,660,680,610,690,605,650,
660,640,600,655,610,640,660,680,650,630,670,665,690,645,660,600,660,630,650,690,700,625,705,590,595,
595];
var mARI_3 = [555,550,550,555,960,930,920,940,900,880,890,960,910,880,920,900,940,880,950,880,910,930,860,845,875,
910,890,1000,900,895,910,870,930,1000,900,940,920,890,970,900,1000,940,930,880,900,960,930,890,940,960,
920,880,950,870,940,900,930,960,900,880,940,1000,920,890,950,900,870,930,880,910,960,900,860,920,890,
850,930,880,900,870,940,890,910,930,870,960,900,880,985,985,900,960,880,920,950,900,870,940,890,920,
900,930,880,950,910,870,940,900,920,960,880,930,890,970,910,860,940,900,920,1000,880,930,890,910,870,
940,860,900,930,880,830,910,870,950,840,890,920,860,900,820,880,840,910,870,930,900,880,850,920,980,
860,900,830,880,920,850,900,840,930,870,890,830,910,880,850,900,870,920,840,890,860,930,880,850,910,
870,840,900,860,880,920,850,890,870,910,840,880,860,900,920,870,880,850,890,870,910,855,880,900,850,
885];
var mARI_4 = [560,560,555,570,735,825,920,960,1000,1000,980,960,1000,940,1000,960,990,940,960,1000,930,960,920,980,1000,
960,1000,940,900,1000,950,920,980,960,780,940,960,900,1000,940,920,970,880,1000,880,920,880,960,870,940,
900,960,870,920,940,900,960,880,940,920,960,900,960,870,940,850,930,960,900,880,940,900,975,920,890,
940,900,950,870,920,880,940,890,920,1000,960,920,880,940,950,900,940,920,960,880,930,900,950,910,940,
1000,920,985,950,900,960,920,880,940,985,910,940,960,900,985,920,940,900,960,1000,940,920,1000,950,920,
960,900,940,920,960,985,930,960,900,940,920,950,900,960,930,880,950,940,970,920,1000,940,960,900,940,
960,920,950,900,930,960,940,920,900,960,940,920,975,950,920,1000,960,940,920,960,930,845,975,940,960,
1000,930,960,920,940,960,950,920,970,940,920,960,930,950,975,960,940,920,960,940,950,920,940,1000,948,
948];
var mARI_5 = [548,575,570,675,860,960,890,950,1000,1000,950,960,1000,920,980,940,1000,960,990,940,1000,960,1000,1000,940,
960,1000,940,960,920,1000,940,970,960,1000,960,940,1000,920,960,940,920,1000,960,1000,940,960,1000,920,960,
940,880,920,845,900,960,920,940,860,900,985,920,960,900,940,880,920,940,900,960,860,900,920,880,920,
900,880,790,900,860,920,870,880,900,940,850,900,880,780,870,900,860,920,880,900,950,870,900,860,920,
880,920,860,900,940,870,900,880,920,860,900,880,940,870,910,850,890,920,860,900,880,920,870,900,860,
880,920,870,815,900,880,860,920,880,840,900,870,820,880,910,820,850,900,870,920,860,890,840,910,870,
900,850,880,920,840,890,870,910,850,880,900,860,920,840,880,910,870,890,860,920,880,800,870,900,840,
880,910,860,890,840,870,920,860,900,880,850,910,870,890,920,860,880,985,870,900,880,910,870,900,890,
890];
var mARI_6 = [560,560,555,550,655,810,960,970,980,920,940,960,970,930,960,940,970,925,970,960,970,960,940,960,1000,
960,920,960,930,960,1000,960,920,960,900,940,960,920,960,900,940,880,960,940,1000,920,960,940,980,950,
930,870,960,870,950,940,900,920,890,960,920,900,940,880,920,900,960,920,900,950,920,960,900,940,890,
960,900,860,920,830,835,790,780,810,870,900,940,870,960,920,890,880,960,900,870,930,830,960,900,825,
920,960,880,940,900,960,920,880,950,900,960,920,940,880,970,930,900,960,940,920,960,900,940,880,960,
920,900,960,930,890,960,920,940,900,960,930,880,960,920,940,1000,960,900,1000,940,920,960,850,920,960,
940,980,920,960,900,970,940,920,960,1000,940,900,960,920,940,980,920,960,940,900,960,930,870,960,940,
920,960,980,940,1000,1000,920,960,1000,940,980,960,920,960,940,900,960,1000,930,960,940,900,960,930,935,
935];

// ---------- Task Identity / AMI ----------
var tAMI_0 = [85,320,65,70,110,160,5,20,60,70,30,40,120,110,40,50,20,170,40,190,50,100,180,40,130,
150,30,210,170,100,230,30,90,20,80,40,10,40,150,100,120,20,60,90,100,180,60,90,120,70,
50,80,220,120,60,100,150,80,120,200,20,10,90,170,120,40,80,50,140,90,70,15,120,40,160,
110,60,170,40,80,50,130,70,110,40,90,160,30,60,120,80,90,140,100,70,290,30,120,80,50,
200,50,120,90,160,60,80,130,100,70,140,50,100,120,60,230,90,70,130,60,110,220,80,140,70,
160,90,120,180,60,110,140,80,100,170,60,120,90,30,150,210,-10,50,20,100,130,60,180,90,120,
50,100,140,60,120,90,40,150,70,110,130,60,120,170,70,100,80,140,60,160,90,220,50,40,130,
40,100,70,160,220,30,120,80,60,140,100,90,70,180,110,50,80,130,60,90,10,140,60,210,180,
200];
var tAMI_1 = [200,210,250,100,230,180,270,150,300,220,200,170,240,260,120,230,250,390,200,250,130,220,250,180,160,
210,150,260,220,50,350,280,230,260,200,210,160,280,190,220,210,160,250,180,130,290,200,250,150,210,
180,120,160,140,90,200,150,170,60,130,170,110,160,90,200,130,80,150,60,170,110,240,130,90,160,
20,120,150,100,180,60,140,90,200,110,250,130,80,170,100,440,160,120,90,150,70,190,110,140,100,
130,90,160,70,120,190,100,150,80,140,60,120,200,90,160,110,150,70,130,190,100,150,80,300,120,
50,140,200,330,160,110,340,150,90,320,120,190,80,280,140,110,160,90,130,60,150,110,190,160,120,
230,170,110,190,120,80,150,110,200,130,160,90,140,120,180,100,150,70,130,110,170,80,300,130,110,
160,330,120,90,150,110,200,130,280,60,140,110,200,130,180,120,90,160,130,200,110,70,140,110,120,
120];
var tAMI_2 = [230,200,280,130,250,200,320,230,150,270,330,280,350,170,300,330,200,260,90,300,410,310,300,280,240,
110,330,170,280,260,340,350,260,280,370,270,310,380,360,230,280,180,270,350,90,330,370,80,390,200,
190,330,220,210,120,50,250,200,180,250,350,300,220,120,200,70,180,110,250,100,120,260,190,210,170,
180,120,240,90,230,270,300,320,210,170,340,120,260,200,140,80,270,180,250,130,230,370,150,220,260,
210,260,170,140,200,390,150,300,230,130,180,220,170,280,130,120,260,180,340,110,230,160,290,130,350,
230,390,180,120,260,200,310,60,270,180,330,230,150,90,270,190,380,100,300,240,390,140,280,110,160,
0,150,100,270,210,320,260,180,230,330,120,280,170,210,240,130,300,190,330,160,250,330,210,280,120,
350,170,230,140,290,110,260,320,180,250,110,150,200,260,240,170,300,220,150,280,190,330,160,140,310,
385];
var tAMI_3 = [210,270,270,470,305,420,350,360,460,340,350,570,340,430,170,170,370,370,400,530,430,430,530,430,440,
420,400,550,320,550,380,480,400,320,390,460,450,530,530,400,410,420,490,370,360,340,290,540,360,330,
300,630,290,350,280,410,400,290,280,440,460,430,290,420,550,280,410,410,410,410,370,540,300,510,470,
520,540,350,660,510,540,340,410,540,290,320,330,440,540,320,460,460,510,300,330,460,630,460,320,460,
630,460,460,320,460,460,540,330,460,460,330,520,540,310,450,460,540,330,310,450,350,460,460,300,460,
360,510,450,480,470,540,350,450,540,500,460,540,320,460,420,300,360,540,560,540,310,540,550,460,370,
540,460,550,610,450,380,540,570,430,490,540,450,550,410,530,520,530,290,360,540,590,380,360,530,480,
520,560,540,380,540,530,360,470,530,390,520,370,380,510,530,540,420,390,410,540,110,290,370,380,370,
465];
var tAMI_4 = [150,320,380,540,540,540,540,540,410,540,365,540,380,430,540,540,400,500,540,540,620,540,540,540,540,
530,540,540,540,540,510,540,540,600,590,540,540,540,540,530,620,540,540,610,540,540,530,540,520,540,
540,550,620,540,540,540,570,580,550,560,620,580,520,630,660,630,620,640,630,620,640,630,620,540,640,
690,620,640,650,720,640,630,620,860,630,640,620,660,620,630,640,620,640,620,555,620,640,620,630,620,
670,620,630,660,620,620,625,620,620,630,620,640,620,620,660,620,600,620,620,620,620,630,620,620,480,
620,660,620,625,650,620,620,630,620,640,620,630,620,620,620,630,620,620,620,590,660,620,620,630,620,
620,620,625,630,620,660,620,620,710,620,620,580,620,640,620,620,660,620,620,660,620,570,620,630,620,
680,620,650,620,660,650,620,620,640,620,620,620,570,620,650,620,620,630,620,620,620,620,620,660,620,
635];
var tAMI_5 = [340,380,440,540,540,540,540,540,540,540,540,660,660,440,540,540,615,540,540,540,650,570,540,540,540,
540,610,540,870,540,645,540,540,660,550,540,540,770,800,570,540,540,630,600,540,540,560,875,850,645,
880,580,820,870,860,570,870,800,850,870,790,730,890,810,750,820,760,870,800,880,820,900,790,850,880,
810,880,770,920,850,880,790,870,900,880,850,890,880,870,620,880,830,850,900,800,880,870,900,830,880,
890,820,880,900,850,900,880,810,920,850,880,900,860,940,880,910,870,900,880,850,890,910,860,880,920,
880,900,850,750,690,820,880,860,630,740,870,820,900,880,950,830,890,880,850,900,940,870,680,890,880,
900,850,880,790,920,870,820,880,850,900,810,870,880,840,900,880,820,910,850,880,720,900,850,880,820,
800,880,850,900,790,870,820,880,850,900,790,880,850,920,800,880,860,900,850,930,880,810,900,790,770,
910];
var tAMI_6 = [350,310,380,530,540,540,540,540,630,590,630,540,685,580,630,745,675,1000,750,775,865,810,770,755,800,
820,800,770,860,690,830,800,750,900,785,730,1000,1000,850,860,1000,830,880,790,1000,930,1000,1000,980,860,
970,860,840,1000,1000,860,950,860,1000,1000,860,930,860,1000,860,860,1000,870,1000,1000,860,1000,860,920,860,
860,1000,860,940,950,950,860,860,860,860,860,860,1000,860,1000,1000,870,1000,920,860,860,830,1000,860,1000,
880,860,920,1000,1000,1000,1000,860,1000,1000,920,1000,1000,1000,980,1000,1000,1000,860,1000,860,1000,1000,860,1000,
860,1000,1000,1000,1000,860,1000,1000,1000,860,1000,1000,860,1000,1000,1000,1000,1000,860,1000,1000,1000,1000,1000,1000,
1000,860,1000,920,1000,1000,1000,860,860,1000,1000,1000,920,860,1000,1000,1000,1000,1000,860,1000,1000,860,1000,1000,
880,1000,1000,860,1000,1000,1000,1000,860,1000,1000,860,1000,1000,1000,860,1000,1000,1000,860,1000,1000,1000,1000,1000,
1000];

// ---------- Distribution Identity / AMI ----------
var dAMI_0 = [90,190,200,150,145,220,115,215,230,110,160,115,220,120,150,140,110,70,100,130,135,230,125,200,220,
205,120,245,205,190,230,180,210,150,160,140,105,210,190,160,220,120,180,75,160,210,120,180,140,200,
140,150,200,170,160,140,110,160,200,170,150,210,120,190,160,150,140,200,120,180,150,170,200,120,160,
90,150,190,130,160,120,180,170,140,110,160,75,140,120,170,160,140,190,110,150,160,120,100,170,150,
130,170,150,160,140,180,170,150,140,160,220,180,150,170,140,130,160,180,140,170,240,160,150,170,160,
180,150,170,140,160,90,80,170,100,150,160,130,180,160,150,140,180,150,100,170,150,140,180,160,150,
160,100,180,140,150,170,120,160,180,110,150,170,140,160,210,130,180,150,140,160,120,150,170,140,160,
110,170,140,160,180,120,70,90,160,140,180,150,120,170,140,160,130,150,170,140,220,150,200,160,220,
200];
var dAMI_1 = [190,220,240,300,240,310,280,300,260,330,270,310,240,290,330,250,300,280,340,260,310,290,250,330,270,
300,240,320,260,290,350,270,310,250,330,280,240,310,270,230,260,45,190,250,210,120,240,130,200,160,
230,200,160,240,190,150,210,170,240,190,140,200,220,160,180,130,95,220,190,160,200,170,230,150,190,
160,210,170,140,230,190,150,220,200,170,240,160,190,230,180,150,210,55,170,200,240,180,160,220,190,
230,150,200,260,180,220,160,240,190,40,200,170,230,210,180,250,200,270,160,220,190,240,210,260,180,
230,270,210,190,250,220,280,200,240,260,210,300,230,270,200,250,290,220,260,200,320,240,280,210,190,
250,220,270,240,200,260,230,290,210,250,270,220,240,280,210,260,230,250,55,270,210,250,290,200,240,
80,260,220,250,190,230,160,300,270,110,240,280,210,250,230,270,220,240,200,260,280,230,250,150,220,
275];
var dAMI_2 = [190,200,350,310,330,260,300,340,250,310,280,130,270,310,230,300,210,340,240,310,280,250,330,300,200,
330,360,260,310,300,80,300,420,270,360,410,310,360,330,290,270,210,240,300,330,200,390,280,310,220,
320,390,200,300,260,180,300,290,220,280,290,260,300,280,240,310,230,320,170,260,180,290,270,340,280,
260,300,230,250,270,230,310,240,280,150,260,310,220,280,330,300,350,340,260,290,330,140,350,300,240,
330,180,330,290,250,360,300,270,360,310,280,350,320,250,340,300,350,280,360,300,310,270,350,310,330,
360,290,360,320,250,360,350,360,210,360,250,330,360,280,360,240,360,280,350,360,300,360,250,360,350,
260,360,340,360,290,360,250,360,330,360,360,280,360,350,360,250,360,340,360,290,360,350,360,270,360,
360,250,360,340,360,360,230,360,290,360,240,360,350,360,330,360,290,360,360,250,360,350,200,370,360,
355];
var dAMI_3 = [360,350,350,420,350,280,330,420,330,325,325,420,325,355,355,350,325,345,380,420,330,420,295,350,330,
270,350,330,420,330,330,445,350,420,330,350,420,340,355,420,330,340,330,350,300,265,330,330,350,330,
340,300,400,360,330,270,360,380,360,355,380,450,360,450,420,330,420,340,360,350,460,360,420,270,360,
430,490,360,420,430,420,430,380,420,380,360,360,300,370,360,430,360,440,380,360,430,360,430,360,420,
360,360,430,360,430,380,360,430,360,360,430,360,380,430,360,505,440,360,430,360,360,500,360,430,360,
430,360,360,430,340,360,430,360,430,360,430,360,360,420,380,360,400,490,360,420,430,420,430,420,430,
420,430,420,430,420,480,420,430,420,430,420,430,420,430,420,360,420,430,420,430,420,440,420,430,420,
430,420,430,420,420,430,420,430,420,480,420,430,420,430,420,420,430,420,375,420,430,420,430,420,430,
440];
var dAMI_4 = [290,340,365,420,420,420,420,420,420,420,420,420,430,430,430,445,430,430,430,430,420,400,430,430,430,
430,430,430,430,430,430,420,430,430,430,430,430,455,480,430,430,430,430,430,430,430,430,430,430,430,
485,510,480,470,480,470,480,445,480,470,480,470,415,600,470,565,490,530,490,490,475,480,490,550,480,
490,555,490,490,605,560,590,580,695,640,490,605,490,425,420,480,430,480,490,480,485,490,480,490,520,
530,500,490,570,480,570,500,460,595,500,490,480,500,420,490,500,480,490,525,440,490,420,500,570,540,
490,500,480,510,490,460,500,490,480,500,490,480,490,500,480,490,460,490,510,490,555,490,480,500,490,
490,500,490,480,490,510,500,490,480,490,500,490,480,500,490,465,510,490,500,510,490,500,480,510,490,
500,480,490,490,570,490,540,510,480,500,490,510,480,490,500,490,480,490,570,565,490,480,500,505,490,
490];
var dAMI_5 = [360,280,420,420,420,420,420,420,420,420,510,420,445,420,420,420,420,420,420,420,420,575,520,420,660,
480,730,615,575,440,410,475,605,550,575,695,520,760,535,530,685,500,615,600,690,690,700,640,690,560,
690,600,670,660,640,615,690,670,660,820,610,620,680,690,720,690,660,690,650,700,760,700,760,730,690,
800,650,820,690,940,1000,910,790,880,760,710,800,690,740,630,650,700,830,760,820,690,800,740,720,750,
700,780,690,740,700,680,730,760,700,680,720,760,740,690,800,760,700,730,690,780,720,800,760,820,870,
700,720,660,680,650,700,690,660,740,710,680,720,760,690,740,780,700,720,760,740,680,760,600,730,760,
700,750,780,720,760,690,740,770,790,850,780,740,700,780,760,680,740,875,860,720,760,740,780,720,760,
780,750,740,780,760,730,710,780,700,720,790,750,780,720,760,790,780,740,780,760,800,770,850,760,780,
755];
var dAMI_6 = [400,310,400,365,420,420,420,420,430,450,450,615,540,585,660,625,685,590,665,710,790,770,700,790,780,
850,770,760,790,720,790,675,820,740,730,720,790,790,750,790,670,670,670,750,775,800,780,800,790,740,
855,830,785,875,790,760,780,760,640,790,800,810,895,835,790,820,790,850,800,840,820,840,780,825,885,
780,840,950,920,890,920,930,925,840,1000,800,880,870,800,720,790,800,800,780,820,820,790,865,800,790,
760,790,730,800,790,780,800,790,810,800,780,820,800,790,780,800,790,810,780,790,800,810,790,800,815,
790,800,780,745,800,790,810,800,780,790,800,780,810,800,790,780,835,800,790,810,780,800,815,790,800,
790,800,820,780,800,790,810,780,800,835,790,720,800,790,810,780,830,790,800,710,790,810,780,800,790,
800,780,820,790,925,800,810,790,800,780,800,835,800,790,810,800,780,790,800,820,790,830,800,720,805,
715];

// ---------- Distribution-Mapping Identity / AMI ----------
var mAMI_0 = [522,537,546,575,572,567,548,541,562,560,530,556,581,547,530,540,543,575,528,556,560,565,565,548,565,
565,560,560,582,558,532,545,548,562,553,534,540,562,548,542,517,567,568,548,556,555,546,562,547,556,
522,548,557,558,565,540,566,552,573,534,572,554,545,570,560,555,546,560,548,558,536,545,553,557,564,
533,555,548,540,560,535,579,555,566,536,548,550,566,540,556,548,553,560,545,562,555,547,535,567,560,
544,577,572,560,546,555,544,560,556,548,562,552,560,550,555,570,538,565,555,548,536,577,560,553,545,
560,548,542,556,544,552,548,544,573,556,540,560,548,552,556,563,548,542,560,556,548,553,560,545,557,
548,556,530,548,566,560,545,552,566,542,552,545,555,550,546,553,556,534,552,540,570,567,546,530,552,
565,520,540,557,567,545,560,552,540,534,560,555,540,560,556,548,522,568,556,550,565,568,540,538,556,
581];
var mAMI_1 = [665,655,680,675,685,692,664,690,680,688,676,684,670,688,672,690,680,693,668,678,670,676,690,684,680,
686,676,672,678,668,665,676,683,668,676,672,665,676,660,645,672,690,682,665,692,688,695,690,700,676,
680,683,688,673,690,672,676,665,653,680,708,668,685,702,700,670,690,655,695,686,672,694,676,680,660,
675,694,678,660,682,676,652,650,686,674,690,665,684,676,662,688,662,684,676,690,710,694,682,673,668,
676,684,697,680,690,684,695,690,675,688,695,670,668,685,647,676,688,680,636,678,668,637,674,692,682,
694,666,650,680,670,658,673,668,632,684,686,672,680,688,660,674,698,670,676,668,672,665,680,650,668,
660,665,670,672,690,653,665,684,676,668,654,670,672,665,688,676,696,684,670,695,676,652,628,644,665,
684,676,670,665,672,668,680,672,690,676,682,643,670,682,676,660,692,672,685,655,676,670,678,680,670,
650];
var mAMI_2 = [690,670,675,680,720,715,780,790,800,790,800,750,760,760,877,760,815,780,725,810,745,775,715,760,755,
745,735,835,765,810,735,760,797,790,798,780,765,785,745,825,750,695,740,760,740,795,735,770,750,730,
725,755,700,695,710,725,710,750,715,745,720,705,700,720,715,730,725,780,730,785,790,840,805,800,760,
795,770,775,760,770,745,770,770,810,780,790,850,865,825,800,730,760,750,775,760,745,770,760,790,745,
785,760,785,715,755,745,775,770,790,760,785,805,790,760,800,710,750,770,790,780,780,805,810,795,770,
755,780,760,740,730,725,790,760,780,790,740,770,800,760,755,740,780,770,760,750,790,760,765,770,800,
770,805,760,765,760,745,740,760,790,770,760,740,785,790,770,730,760,790,770,760,750,790,725,770,790,
760,775,725,770,765,760,725,780,760,780,785,770,760,780,750,722,780,760,770,790,750,805,800,715,800,
730];
var mAMI_3 = [680,680,680,680,775,960,985,960,1000,940,975,930,985,1000,960,975,950,940,930,960,985,945,915,920,960,
975,940,985,930,960,935,920,960,930,970,1000,960,940,975,955,935,965,1000,950,985,960,940,970,945,990,
960,935,975,945,960,990,930,965,950,1000,975,940,960,930,985,950,970,935,960,945,980,950,930,965,940,
960,940,975,930,955,935,980,945,960,930,975,990,950,935,970,990,960,945,920,965,975,930,960,945,970,
955,980,940,960,925,975,950,935,965,945,980,930,960,975,945,920,960,935,970,985,950,945,1000,955,940,
925,960,945,975,935,895,960,940,920,970,945,925,965,950,885,940,960,920,945,885,930,955,915,960,940,
965,930,955,910,940,895,925,960,940,920,905,955,935,900,945,925,960,915,940,905,950,920,945,910,935,
905,940,925,950,915,935,905,945,920,940,910,935,925,955,915,940,920,945,915,935,910,940,925,915,910,
930];
var mAMI_4 = [680,680,680,690,828,895,980,960,1000,990,985,975,1000,990,975,985,1000,975,990,960,1000,985,970,1000,990,
980,1000,975,990,1000,975,985,960,990,880,975,985,1000,960,990,975,985,1000,960,1000,975,990,970,985,960,
975,990,960,985,975,970,955,985,975,990,960,980,985,975,960,990,975,970,985,960,980,975,990,960,985,
975,990,960,985,970,955,990,975,960,1000,985,970,960,990,975,960,985,970,960,990,975,985,960,970,905,
960,1000,990,985,960,975,990,970,985,990,975,960,985,990,990,975,960,985,970,990,960,1000,975,985,970,
960,990,975,985,960,990,975,960,985,970,975,990,960,985,975,960,990,970,985,975,960,990,1000,975,985,
960,990,975,960,985,970,990,960,985,975,960,990,985,970,960,1000,975,985,960,990,975,900,985,970,960,
1000,975,990,960,985,970,975,990,960,985,975,960,980,990,960,985,975,970,990,960,975,985,970,1000,972,
972];
var mAMI_5 = [672,690,685,675,770,960,945,975,1000,985,960,980,1000,970,950,985,960,990,975,1000,985,960,975,1000,955,
990,965,985,960,1000,975,950,985,965,960,990,975,955,985,960,975,990,955,970,1000,985,960,975,950,990,
965,940,975,890,960,945,975,930,960,920,955,970,935,960,945,975,930,960,940,965,920,945,960,930,950,
910,855,940,920,880,935,910,890,940,900,925,945,905,865,930,915,950,925,905,940,915,930,900,940,920,
935,905,945,920,930,910,950,925,940,915,935,960,920,945,925,905,940,920,950,930,915,945,925,910,940,
920,950,930,910,890,945,925,915,940,905,930,950,915,885,935,920,880,945,920,930,905,940,915,930,920,
935,910,940,925,905,945,920,935,910,950,925,900,940,915,930,905,945,920,935,910,940,870,925,905,940,
915,935,905,950,925,910,945,930,900,940,920,935,950,910,940,925,905,945,920,935,910,945,930,920,935,
930];
var mAMI_6 = [680,675,685,675,760,880,975,1000,985,960,985,970,990,1000,975,985,1000,960,985,975,990,965,980,970,990,
975,960,990,970,955,975,985,960,975,950,975,960,985,970,960,980,955,975,1000,960,985,970,965,990,975,
960,985,965,940,970,905,955,935,975,960,945,970,950,960,920,975,945,960,935,970,955,945,965,950,930,
960,945,935,875,875,930,845,825,870,960,945,930,960,940,935,955,940,890,960,945,955,930,965,945,880,
950,965,945,960,985,940,965,950,975,955,945,970,960,945,975,960,980,955,965,945,975,960,990,955,940,
970,960,955,975,965,950,970,955,960,945,975,965,950,960,985,945,970,955,1000,965,950,975,960,945,920,
975,960,985,970,955,980,965,975,985,960,970,945,975,960,990,955,975,965,960,985,950,975,965,960,985,
975,990,960,980,960,1000,985,970,960,1000,975,955,965,950,970,960,985,975,1000,960,985,970,950,960,955,
955];

// rows: F1, ARI, AMI ; columns: task, distribution, distribution-mapping
var panels = [
  [[tF1_0, tF1_1, tF1_2, tF1_3, tF1_4, tF1_5, tF1_6],
   [dF1_0, dF1_1, dF1_2, dF1_3, dF1_4, dF1_5, dF1_6],
   [mF1_0, mF1_1, mF1_2, mF1_3, mF1_4, mF1_5, mF1_6]],
  [[tARI_0, tARI_1, tARI_2, tARI_3, tARI_4, tARI_5, tARI_6],
   [dARI_0, dARI_1, dARI_2, dARI_3, dARI_4, dARI_5, dARI_6],
   [mARI_0, mARI_1, mARI_2, mARI_3, mARI_4, mARI_5, mARI_6]],
  [[tAMI_0, tAMI_1, tAMI_2, tAMI_3, tAMI_4, tAMI_5, tAMI_6],
   [dAMI_0, dAMI_1, dAMI_2, dAMI_3, dAMI_4, dAMI_5, dAMI_6],
   [mAMI_0, mAMI_1, mAMI_2, mAMI_3, mAMI_4, mAMI_5, mAMI_6]]
];
var yTicks = [yTicksF1, yTicksARI, yTicksAMI];

var gridLefts = [61, 717.5, 1374];
var gridTops = [26, 678, 1330];
var gridW = 547, gridH = 543.5;
var font = 'DejaVu Sans';

(function () {
  var myChart = echarts.init(document.getElementById('chart'));
  var grids = [], xAxes = [], yAxes = [], series = [], legends = [], titles = [];

  for (var r = 0; r < 3; r++) {
    for (var c = 0; c < 3; c++) {
      var idx = r * 3 + c;
      var gLeft = gridLefts[c], gTop = gridTops[r];

      grids.push({
        left: gLeft, top: gTop, width: gridW, height: gridH,
        show: true, borderColor: '#000', borderWidth: 1.1,
        containLabel: false, outerBoundsMode: 'none'
      });

      titles.push({
        text: columnTitles[c],
        left: gLeft + gridW / 2, top: gTop - 19,
        textAlign: 'center', padding: 0,
        textStyle: {fontSize: 11, fontWeight: 'normal', color: '#000', fontFamily: font}
      });

      xAxes.push({
        gridIndex: idx, type: 'value', min: -10, max: 210,
        axisLine: {show: false, onZero: false},
        axisTick: {show: true, customValues: xTicks.slice(), length: 5, lineStyle: {color: '#000', width: 1.1}},
        axisLabel: {customValues: xTicks.slice(), fontSize: 14, color: '#000', fontFamily: font, margin: 10},
        splitLine: {show: false},
        name: 'Epoch', nameLocation: 'middle', nameGap: 32,
        nameTextStyle: {fontSize: 14, color: '#000', fontFamily: font}
      });

      yAxes.push({
        gridIndex: idx, type: 'value',
        // same 5% padding as matplotlib's autoscale
        min: function (v) { return v.min - (v.max - v.min) * 0.05; },
        max: function (v) { return v.max + (v.max - v.min) * 0.05; },
        axisLine: {show: false, onZero: false},
        axisTick: {show: true, customValues: yTicks[r][c].slice(), length: 5, lineStyle: {color: '#000', width: 1.1}},
        axisLabel: {
          customValues: yTicks[r][c].slice(), fontSize: 14, color: '#000', fontFamily: font, margin: 10,
          formatter: function (v) { return v.toFixed(1); }
        },
        splitLine: {show: false},
        name: rowMetrics[r], nameLocation: 'middle', nameGap: 38, nameRotate: 90,
        nameTextStyle: {fontSize: 14, color: '#000', fontFamily: font}
      });

      panels[r][c].forEach(function (vals, k) {
        series.push({
          name: seriesNames[k],
          type: 'line',
          xAxisIndex: idx, yAxisIndex: idx,
          data: vals.map(function (v, e) { return [e, v / 1000]; }),
          symbol: 'circle', symbolSize: 8.3,
          showSymbol: true, showAllSymbol: true,
          lineStyle: {width: 2.1, color: colors[k]},
          itemStyle: {color: colors[k], borderWidth: 0},
          emphasis: {disabled: true},
          silent: true,
          animation: false
        });
      });

      legends.push({
        data: seriesNames.slice(),
        orient: 'vertical',
        left: gLeft + 7, top: gTop + 7,
        itemWidth: 28, itemHeight: 10, itemGap: 7,
        padding: [6, 6, 5, 6],
        backgroundColor: 'rgba(255,255,255,0.8)',
        borderColor: '#cccccc', borderWidth: 1, borderRadius: 3,
        selectedMode: false,
        textStyle: {fontSize: 14, color: '#000', fontFamily: font, lineHeight: 14, padding: [0, 0, 0, 6]}
      });
    }
  }

  myChart.setOption({
    backgroundColor: '#fff',
    animation: false,
    textStyle: {fontFamily: font},
    title: titles,
    legend: legends,
    grid: grids,
    xAxis: xAxes,
    yAxis: yAxes,
    series: series
  });
})();
</script>
</body>
</html>
